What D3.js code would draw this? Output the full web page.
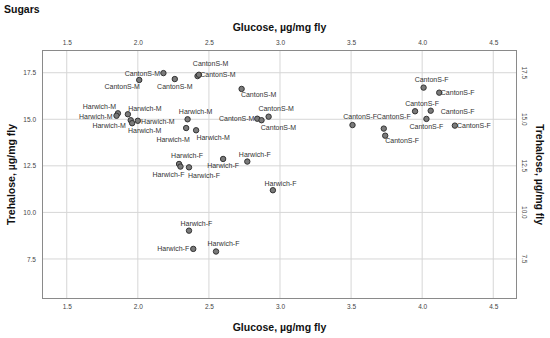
<!DOCTYPE html>
<html>
<head>
<meta charset="utf-8">
<script src="https://cdn.jsdelivr.net/npm/d3@7"></script>
<style>
    body { margin: 0; background: #fff; }
    svg { font-family: Arial, "Liberation Sans", sans-serif; }
    .grid line { stroke: #d6d6d6; stroke-width: 1; }
    .axis text { fill: #444; font-size: 6.5px; }
    .axis .domain { display: none; }
    .title { font-weight: bold; font-size: 10.5px; fill: #111; }
    .pt-label { font-size: 7px; fill: #333; }
</style>
</head>
<body>
<div id="chart"></div>
<script>
    // data
    const groups = [
        'CantonS-M', 'CantonS-M', 'CantonS-M', 'CantonS-M', 'CantonS-M', 'CantonS-M', 'CantonS-M', 'CantonS-M', 'CantonS-M',
        'Harwich-M', 'Harwich-M', 'Harwich-M', 'Harwich-M', 'Harwich-M', 'Harwich-M', 'Harwich-M', 'Harwich-M', 'Harwich-M',
        'CantonS-F', 'CantonS-F', 'CantonS-F', 'CantonS-F', 'CantonS-F', 'CantonS-F', 'CantonS-F', 'CantonS-F', 'CantonS-F',
        'Harwich-F', 'Harwich-F', 'Harwich-F', 'Harwich-F', 'Harwich-F', 'Harwich-F', 'Harwich-F', 'Harwich-F', 'Harwich-F'
    ];
    const glucose = [
        2.18, 2.01, 2.26, 2.42, 2.43, 2.73, 2.92, 2.84, 2.87,
        1.86, 1.85, 1.93, 1.95, 1.96, 2.00, 2.35, 2.34, 2.41,
        4.01, 4.12, 3.95, 4.06, 4.03, 4.23, 3.51, 3.73, 3.74,
        2.29, 2.30, 2.36, 2.60, 2.77, 2.95, 2.36, 2.39, 2.55
    ];
    const trehalose = [
        17.48, 17.11, 17.16, 17.32, 17.39, 16.63, 15.14, 15.03, 14.95,
        15.32, 15.19, 15.27, 14.95, 14.79, 14.92, 15.00, 14.53, 14.41,
        16.70, 16.43, 15.43, 15.46, 15.02, 14.66, 14.69, 14.50, 14.12,
        12.60, 12.46, 12.42, 12.87, 12.73, 11.19, 9.02, 8.04, 7.90
    ];
    const xTicks = [1.5, 2.0, 2.5, 3.0, 3.5, 4.0, 4.5];
    const yTicks = [7.5, 10.0, 12.5, 15.0, 17.5];

    // label offsets (px, label centre relative to point)
    const labelOffsets = [
        [-21, 0], [-17, 7], [0, 7.5], [13, -13], [19, 0], [17, 6], [7.5, -8], [-20.5, 0], [17, 7],
        [-18.5, -6.6], [-20.7, 1], [17, -6], [14, 10], [-23, 2.4], [20, 0.6], [8, -7.6], [-13, 11.5], [17, 7],
        [8, -8.4], [18.5, 0], [7, -8], [27, 0.6], [0, 7.7], [19, 0], [7.7, -8.3], [10, -12], [17, 5.3],
        [8, -8.3], [-12, 7.6], [15, 8.4], [0, 6.7], [7.5, -7.4], [7.6, -7], [7.4, -7.4], [-20, 0], [7.5, -8.4]
    ];

    const W = 550, H = 338;
    const box = { left: 42, top: 50, right: 517, bottom: 299 };

    const svg = d3.select('#chart')
        .append('svg')
        .attr('width', W)
        .attr('height', H);

    //scales
    const x = d3.scaleLinear()
        .domain([1.326, 4.667])
        .range([box.left, box.right]);
    const y = d3.scaleLinear()
        .domain([5.35, 18.72])
        .range([box.bottom, box.top]);

    //grid lines
    const grid = svg.append('g').classed('grid', true);
    grid.selectAll('line.gx')
        .data(xTicks)
        .join('line')
        .attr('x1', d => x(d)).attr('x2', d => x(d))
        .attr('y1', box.top).attr('y2', box.bottom);
    grid.selectAll('line.gy')
        .data(yTicks)
        .join('line')
        .attr('class', 'gy')
        .attr('x1', box.left).attr('x2', box.right)
        .attr('y1', d => y(d)).attr('y2', d => y(d));

    //frame
    svg.append('rect')
        .attr('x', box.left + 0.5)
        .attr('y', box.top + 0.5)
        .attr('width', box.right - box.left - 1)
        .attr('height', box.bottom - box.top - 1)
        .attr('fill', 'none')
        .attr('stroke', '#8a8a8a')
        .attr('stroke-width', 1);

    //axes
    const fmt = d3.format('.1f');
    svg.append('g')
        .classed('axis', true)
        .attr('transform', `translate(0,${box.top - 5})`)
        .call(d3.axisTop(x).tickValues(xTicks).tickFormat(fmt).tickSize(0).tickPadding(0));
    svg.append('g')
        .classed('axis', true)
        .attr('transform', `translate(0,${box.bottom + 5})`)
        .call(d3.axisBottom(x).tickValues(xTicks).tickFormat(fmt).tickSize(0).tickPadding(0));
    svg.append('g')
        .classed('axis', true)
        .attr('transform', `translate(${box.left - 6},0)`)
        .call(d3.axisLeft(y).tickValues(yTicks).tickFormat(fmt).tickSize(0).tickPadding(0));

    // right axis, labels turned 90 degrees
    svg.append('g')
        .classed('axis', true)
        .selectAll('text')
        .data(yTicks)
        .join('text')
        .attr('transform', d => `translate(${box.right + 5},${y(d)}) rotate(90)`)
        .attr('text-anchor', 'middle')
        .text(fmt);

    //titles
    svg.append('text')
        .classed('title', true)
        .attr('x', 4).attr('y', 13)
        .text('Sugars');
    svg.append('text')
        .classed('title', true)
        .attr('x', (box.left + box.right) / 2).attr('y', 31)
        .attr('text-anchor', 'middle')
        .text('Glucose, µg/mg fly');
    svg.append('text')
        .classed('title', true)
        .attr('x', (box.left + box.right) / 2).attr('y', 331)
        .attr('text-anchor', 'middle')
        .text('Glucose, µg/mg fly');
    svg.append('text')
        .classed('title', true)
        .attr('transform', `translate(15,${(box.top + box.bottom) / 2}) rotate(-90)`)
        .attr('text-anchor', 'middle')
        .text('Trehalose, µg/mg fly');
    svg.append('text')
        .classed('title', true)
        .attr('transform', `translate(536,${(box.top + box.bottom) / 2}) rotate(90)`)
        .attr('text-anchor', 'middle')
        .text('Trehalose, µg/mg fly');

    //points
    const data = groups.map((g, i) => ({ group: g, glucose: glucose[i], trehalose: trehalose[i], off: labelOffsets[i] }));

    svg.append('g')
        .selectAll('circle')
        .data(data)
        .join('circle')
        .attr('cx', d => x(d.glucose))
        .attr('cy', d => y(d.trehalose))
        .attr('r', 2.7)
        .attr('fill', '#7a7a7a')
        .attr('stroke', '#333')
        .attr('stroke-width', 1);

    svg.append('g')
        .selectAll('text')
        .data(data)
        .join('text')
        .classed('pt-label', true)
        .attr('x', d => x(d.glucose) + d.off[0])
        .attr('y', d => y(d.trehalose) + d.off[1])
        .attr('dy', '0.35em')
        .attr('text-anchor', 'middle')
        .text(d => d.group);
</script>
</body>
</html>
